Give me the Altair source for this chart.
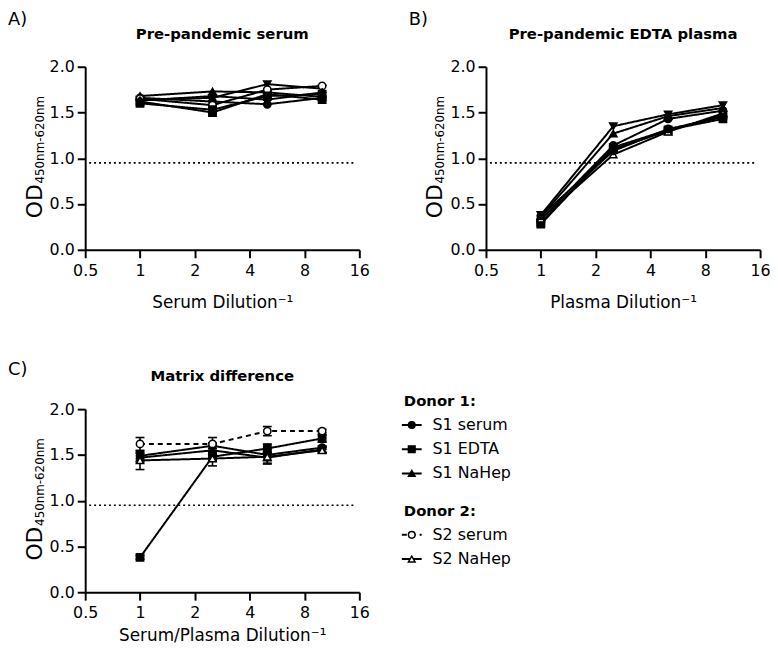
import altair as alt
import pandas as pd

# ---------------- data ----------------
X_DIL = [1, 2.5, 5, 10]
X_TICKS = [0.5, 1, 2, 4, 8, 16]
Y_TICKS = [0.0, 0.5, 1.0, 1.5, 2.0]
CUTOFF = 0.95

A_SERIES = ["Serum 1", "Serum 2", "Serum 3", "Serum 4", "Serum 5", "Serum 6", "Serum 7"]
A_VALUES = [
    [1.66, 1.62, 1.59, 1.66],
    [1.62, 1.50, 1.70, 1.64],
    [1.68, 1.73, 1.72, 1.67],
    [1.64, 1.66, 1.81, 1.76],
    [1.65, 1.58, 1.75, 1.79],
    [1.60, 1.53, 1.68, 1.70],
    [1.63, 1.68, 1.64, 1.72],
]

B_SERIES = ["Plasma 1", "Plasma 2", "Plasma 3", "Plasma 4", "Plasma 5", "Plasma 6", "Plasma 7"]
B_VALUES = [
    [0.38, 1.35, 1.48, 1.58],
    [0.36, 1.27, 1.46, 1.55],
    [0.33, 1.14, 1.43, 1.52],
    [0.28, 1.12, 1.31, 1.43],
    [0.30, 1.10, 1.30, 1.47],
    [0.34, 1.04, 1.29, 1.49],
    [0.37, 1.08, 1.32, 1.45],
]

C_SERIES = ["S1 serum", "S1 EDTA", "S1 NaHep", "S2 serum", "S2 NaHep"]
C_DONOR = ["Donor 1:", "Donor 1:", "Donor 1:", "Donor 2:", "Donor 2:"]
C_VALUES = [
    [1.49, 1.60, 1.50, 1.58],
    [0.38, 1.48, 1.57, 1.68],
    [1.47, 1.55, 1.47, 1.56],
    [1.62, 1.62, 1.76, 1.76],
    [1.44, 1.46, 1.48, 1.55],
]
C_ERRORS = [
    [0.03, 0.03, 0.03, 0.02],
    [0.02, 0.05, 0.05, 0.04],
    [0.05, 0.05, 0.06, 0.03],
    [0.07, 0.07, 0.05, 0.02],
    [0.10, 0.08, 0.08, 0.03],
]

# ---------------- styles ----------------
FONT = "DejaVu Sans"
W, H = 277, 185
SOLID = [1, 0]
DASHED = [5, 4]

A_SHAPES = ["circle", "square", "triangle-up", "triangle-down", "circle", "square", "diamond"]
A_FILLS = ["black", "black", "black", "black", "white", "black", "black"]
B_SHAPES = ["triangle-down", "triangle-up", "circle", "square", "square", "triangle-up", "circle"]
B_FILLS = ["black", "black", "black", "black", "black", "white", "black"]
C_SHAPES = ["circle", "square", "triangle-up", "circle", "triangle-up"]
C_FILLS = ["black", "black", "black", "white", "white"]
C_DASHES = [SOLID, SOLID, SOLID, DASHED, SOLID]


def long_df(series, values, errors=None):
    rows = []
    for i, (s, vals) in enumerate(zip(series, values)):
        for j, (x, v) in enumerate(zip(X_DIL, vals)):
            r = {"series": s, "x": x, "od": v}
            if errors is not None:
                r["lo"] = v - errors[i][j]
                r["hi"] = v + errors[i][j]
            rows.append(r)
    return pd.DataFrame(rows)


def text_layer(text, x, y, size, weight="normal", align="center", baseline="middle", angle=0):
    return alt.Chart(pd.DataFrame({"t": [text]})).mark_text(
        font=FONT, fontSize=size, fontWeight=weight, align=align,
        baseline=baseline, angle=angle, color="black"
    ).encode(text="t:N", x=alt.value(x), y=alt.value(y))


def panel(df, series, shapes, fills, dashes, title, letter, letter_y, xtitle,
          title_pad, errors=False):
    xs = alt.Scale(type="log", base=2, domain=[0.5, 16], nice=False)
    ys = alt.Scale(domain=[0, 2], nice=False)
    xax = alt.Axis(values=X_TICKS, format="~g", title=xtitle, titlePadding=title_pad,
                   labelFlush=False, labelOverlap=False, labelPadding=5)
    yax = alt.Axis(values=Y_TICKS, format=".1f", title=None, labelFlush=False,
                   labelOverlap=False, labelPadding=3)

    def X():
        return alt.X("x:Q", scale=xs, axis=xax)

    def Y(f="od"):
        return alt.Y(f + ":Q", scale=ys, axis=yax)

    base = alt.Chart(df)
    cut = alt.Chart(pd.DataFrame({"od": [CUTOFF]})).mark_rule(
        color="black", strokeWidth=1.6, strokeDash=[2, 3]
    ).encode(y=Y(), x=alt.value(4), x2=alt.value(W - 4))

    lines = base.mark_line(color="black", strokeWidth=2).encode(
        x=X(), y=Y(), detail="series:N",
        strokeDash=alt.StrokeDash("series:N", scale=alt.Scale(domain=series, range=dashes), legend=None),
    )
    layers = [lines, cut]
    if errors:
        layers.append(base.mark_rule(color="black", strokeWidth=1.6).encode(
            x=X(), y=Y("lo"), y2="hi:Q"))
        for f in ["lo", "hi"]:
            layers.append(base.mark_tick(color="black", orient="horizontal", size=9,
                                         thickness=1.6, opacity=1).encode(x=X(), y=Y(f)))
    pts = base.mark_point(filled=True, size=55, stroke="black", strokeWidth=1.5, opacity=1).encode(
        x=X(), y=Y(),
        shape=alt.Shape("series:N", scale=alt.Scale(domain=series, range=shapes), legend=None),
        fill=alt.Fill("series:N", scale=alt.Scale(domain=series, range=fills), legend=None),
    )
    layers.append(pts)
    layers.append(text_layer(title, W / 2, -33, 15, weight="bold"))
    layers.append(text_layer(letter, -78, letter_y, 18, align="left", baseline="alphabetic"))
    layers.append(text_layer("OD", -44, 153, 22, align="left", baseline="alphabetic", angle=270))
    layers.append(text_layer("450nm-620nm", -42, 118, 12, align="left", baseline="alphabetic", angle=270))
    return layers


panel_a = alt.layer(*panel(long_df(A_SERIES, A_VALUES), A_SERIES, A_SHAPES, A_FILLS,
                           [SOLID] * len(A_SERIES), "Pre-pandemic serum", "A)", -42,
                           "Serum Dilution\u207b\u00b9", 16)).properties(width=W, height=H)
panel_b = alt.layer(*panel(long_df(B_SERIES, B_VALUES), B_SERIES, B_SHAPES, B_FILLS,
                           [SOLID] * len(B_SERIES), "Pre-pandemic EDTA plasma", "B)", -42,
                           "Plasma Dilution\u207b\u00b9", 16)).properties(width=W, height=H)

c_layers = panel(long_df(C_SERIES, C_VALUES, C_ERRORS), C_SERIES, C_SHAPES, C_FILLS, C_DASHES,
                 "Matrix difference", "C)", -35, "Serum/Plasma Dilution\u207b\u00b9", 7,
                 errors=True)

# ---- legend for panel C (positions computed from the order of entries) ----
LEG_TOP, HEAD_GAP, STEP, GROUP_GAP = -8, 24, 24.5, 38
leg_rows = []
y = LEG_TOP
prev = None
for s, d in zip(C_SERIES, C_DONOR):
    if d != prev:
        if prev is not None:
            y += GROUP_GAP
        leg_rows.append({"label": d, "kind": "head", "series": d, "ly": y})
        y += HEAD_GAP
        prev = d
    else:
        y += STEP
    leg_rows.append({"label": s, "kind": "item", "series": s, "ly": y})
leg = pd.DataFrame(leg_rows)
ly = alt.Y("ly:Q", scale=None, axis=None)
lbase = alt.Chart(leg)
items = lbase.transform_filter(alt.datum.kind == "item")
leg_layers = [
    lbase.transform_filter(alt.datum.kind == "head").mark_text(
        font=FONT, fontSize=15, fontWeight="bold", align="left", baseline="middle", color="black"
    ).encode(text="label:N", x=alt.value(322), y=ly),
    items.mark_text(
        font=FONT, fontSize=16, align="left", baseline="middle", color="black"
    ).encode(text="label:N", x=alt.value(351), y=ly),
    items.mark_rule(color="black", strokeWidth=2).encode(
        x=alt.value(320), x2=alt.value(340), y=ly,
        strokeDash=alt.StrokeDash("series:N", scale=alt.Scale(domain=C_SERIES, range=C_DASHES), legend=None)),
    items.mark_point(filled=True, size=45, stroke="black", strokeWidth=1.5, opacity=1).encode(
        x=alt.value(330), y=ly,
        shape=alt.Shape("series:N", scale=alt.Scale(domain=C_SERIES, range=C_SHAPES), legend=None),
        fill=alt.Fill("series:N", scale=alt.Scale(domain=C_SERIES, range=C_FILLS), legend=None)),
]

panel_c = alt.layer(alt.layer(*c_layers), alt.layer(*leg_layers)).resolve_scale(
    y="independent").properties(width=W, height=H)

chart = alt.concat(
    panel_a, panel_b, panel_c, columns=2,
    spacing={"row": 161, "column": 128}, bounds="flush",
).resolve_scale(
    shape="independent", fill="independent", strokeDash="independent",
).properties(
    padding={"left": 0, "top": 0, "right": -1, "bottom": 0}
).configure_view(stroke=None).configure_axis(
    labelFont=FONT, labelFontSize=16, labelColor="black",
    titleFont=FONT, titleFontSize=17, titleFontWeight="normal", titleColor="black",
    domainColor="black", domainWidth=2, tickColor="black", tickWidth=2, tickSize=8, grid=False,
)

chart.save("out.html", embed_options={"renderer": "svg", "actions": False})
